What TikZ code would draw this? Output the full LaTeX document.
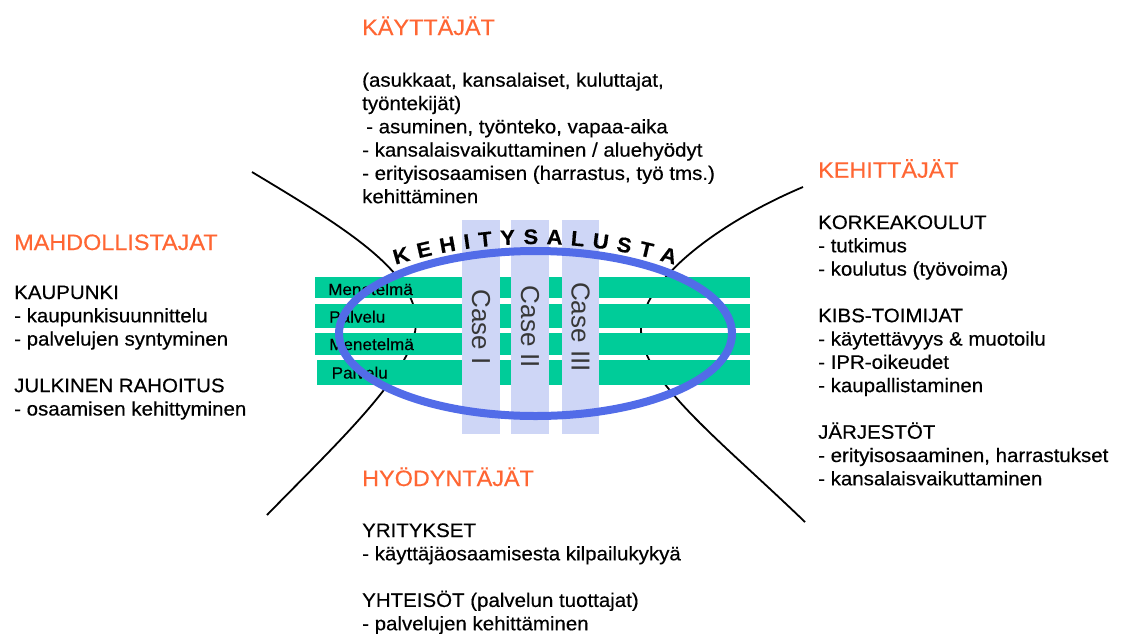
\documentclass[tikz,border=0pt]{standalone}
\usepackage{fontspec}
\setmainfont{Liberation Sans}[FakeBold=0.4, FakeStretch=1.05]
\newfontfamily\casefont{Liberation Sans}
\definecolor{hdrorange}{RGB}{255,102,51}
\definecolor{bargreen}{RGB}{0,204,153}
\definecolor{collav}{RGB}{206,214,246}
\definecolor{ellblue}{RGB}{82,108,232}
\definecolor{casegray}{RGB}{55,55,55}
\tikzset{
  body/.style={anchor=base west, inner sep=0pt, font=\fontsize{19.5}{23.3}\selectfont},
  head/.style={anchor=base west, inner sep=0pt, font=\fontsize{22.3}{26}\selectfont, text=hdrorange},
  barlbl/.style={anchor=base west, inner sep=0pt, font=\fontsize{16.3}{19}\selectfont},
  caselbl/.style={anchor=center, inner sep=0pt, rotate=-90, text=casegray, font=\casefont\fontsize{26}{30}\selectfont},
  arcletter/.style={anchor=base, inner sep=0pt, font=\fontsize{21}{23}\selectfont\bfseries},
  curveline/.style={line width=1.8pt, black},
}
\begin{document}
\begin{tikzpicture}[x=1pt,y=-1pt]
\useasboundingbox (0,0) rectangle (1124,633);
\fill[white] (0,0) rectangle (1124,633);

% black curves
\draw[curveline] (252,172) .. controls (340,225) and (416,270) .. (416,322)
                 .. controls (416,370) and (340,440) .. (267,515);
\draw[curveline] (803,187) .. controls (720,222) and (641,280) .. (641,330)
                 .. controls (641,380) and (720,440) .. (805,522);

% green bars
\fill[bargreen] (315,277) rectangle (750,298);
\fill[bargreen] (315,304) rectangle (750,327.5);
\fill[bargreen] (315,332.5) rectangle (750,355);
\fill[bargreen] (316.5,359.5) rectangle (750,384.5);
\node[barlbl] (b1) at (328,295) {Menetelmä};
\node[barlbl] (b2) at (329,322.5) {Palvelu};
\node[barlbl] (b3) at (329,350) {Menetelmä};
\node[barlbl] (b4) at (331.5,378.5) {Palvelu};

% lavender columns
\fill[collav] (462,220) rectangle (500,434);
\fill[collav] (511,220) rectangle (549,434);
\fill[collav] (562,220) rectangle (599,434);
\node[caselbl] (c1) at (481,327) {Case I};
\node[caselbl] (c2) at (530,327) {Case II};
\node[caselbl] (c3) at (580.5,327) {Case III};

% ellipse
\draw[ellblue, line width=8pt] (535.5,333.5) ellipse [x radius=196.5pt, y radius=82.5pt];

% arc text
\foreach \L/\s [count=\i] in {K/7.6, E/31.0, H/54.5, I/73.8, T/92.0, Y/114.3, S/137.1, A/160.6, L/183.4, U/206.2, S/229.7, T/252.0, A/274.8}{
  \pgfmathsetmacro\ang{270+(\s-141.2)/480*57.2958}
  \pgfmathsetmacro\rot{270-\ang}
  \node[arcletter, rotate=\rot] (arc\i) at ({535+480*cos(\ang)},{724+480*sin(\ang)}) {\L};
}

% top block
\node[head] (kay) at (362,35) {KÄYTTÄJÄT};
\node[body] (t1) at (362,86.7) {(asukkaat, kansalaiset, kuluttajat,};
\node[body] (t2) at (362,110) {työntekijät)};
\node[body] (t3) at (366,133.3) {- asuminen, työnteko, vapaa-aika};
\node[body] (t4) at (362,156.6) {- kansalaisvaikuttaminen / aluehyödyt};
\node[body] (t5) at (362,179.9) {- erityisosaamisen (harrastus, työ tms.)};
\node[body] (t6) at (362,203.2) {kehittäminen};

% right block
\node[head] (keh) at (818,177.7) {KEHITTÄJÄT};
\node[body] (r1) at (818,229) {KORKEAKOULUT};
\node[body] (r2) at (818,252.3) {- tutkimus};
\node[body] (r3) at (818,275.6) {- koulutus (työvoima)};
\node[body] (r4) at (818,322.2) {KIBS-TOIMIJAT};
\node[body] (r5) at (818,345.5) {- käytettävyys \& muotoilu};
\node[body] (r6) at (818,368.8) {- IPR-oikeudet};
\node[body] (r7) at (818,392.1) {- kaupallistaminen};
\node[body] (r8) at (818,438.7) {JÄRJESTÖT};
\node[body] (r9) at (818,462) {- erityisosaaminen, harrastukset};
\node[body] (r10) at (818,485.3) {- kansalaisvaikuttaminen};

% left block
\node[head] (mah) at (14,250) {MAHDOLLISTAJAT};
\node[body] (l1) at (14,299) {KAUPUNKI};
\node[body] (l2) at (14,322.3) {- kaupunkisuunnittelu};
\node[body] (l3) at (14,345.6) {- palvelujen syntyminen};
\node[body] (l4) at (14,392.2) {JULKINEN RAHOITUS};
\node[body] (l5) at (14,415.5) {- osaamisen kehittyminen};

% bottom block
\node[head] (hyo) at (362,486) {HYÖDYNTÄJÄT};
\node[body] (h1) at (362,537) {YRITYKSET};
\node[body] (h2) at (362,560.3) {- käyttäjäosaamisesta kilpailukykyä};
\node[body] (h3) at (362,606.9) {YHTEISÖT (palvelun tuottajat)};
\node[body] (h4) at (362,630.2) {- palvelujen kehittäminen};
\end{tikzpicture}
\end{document}
